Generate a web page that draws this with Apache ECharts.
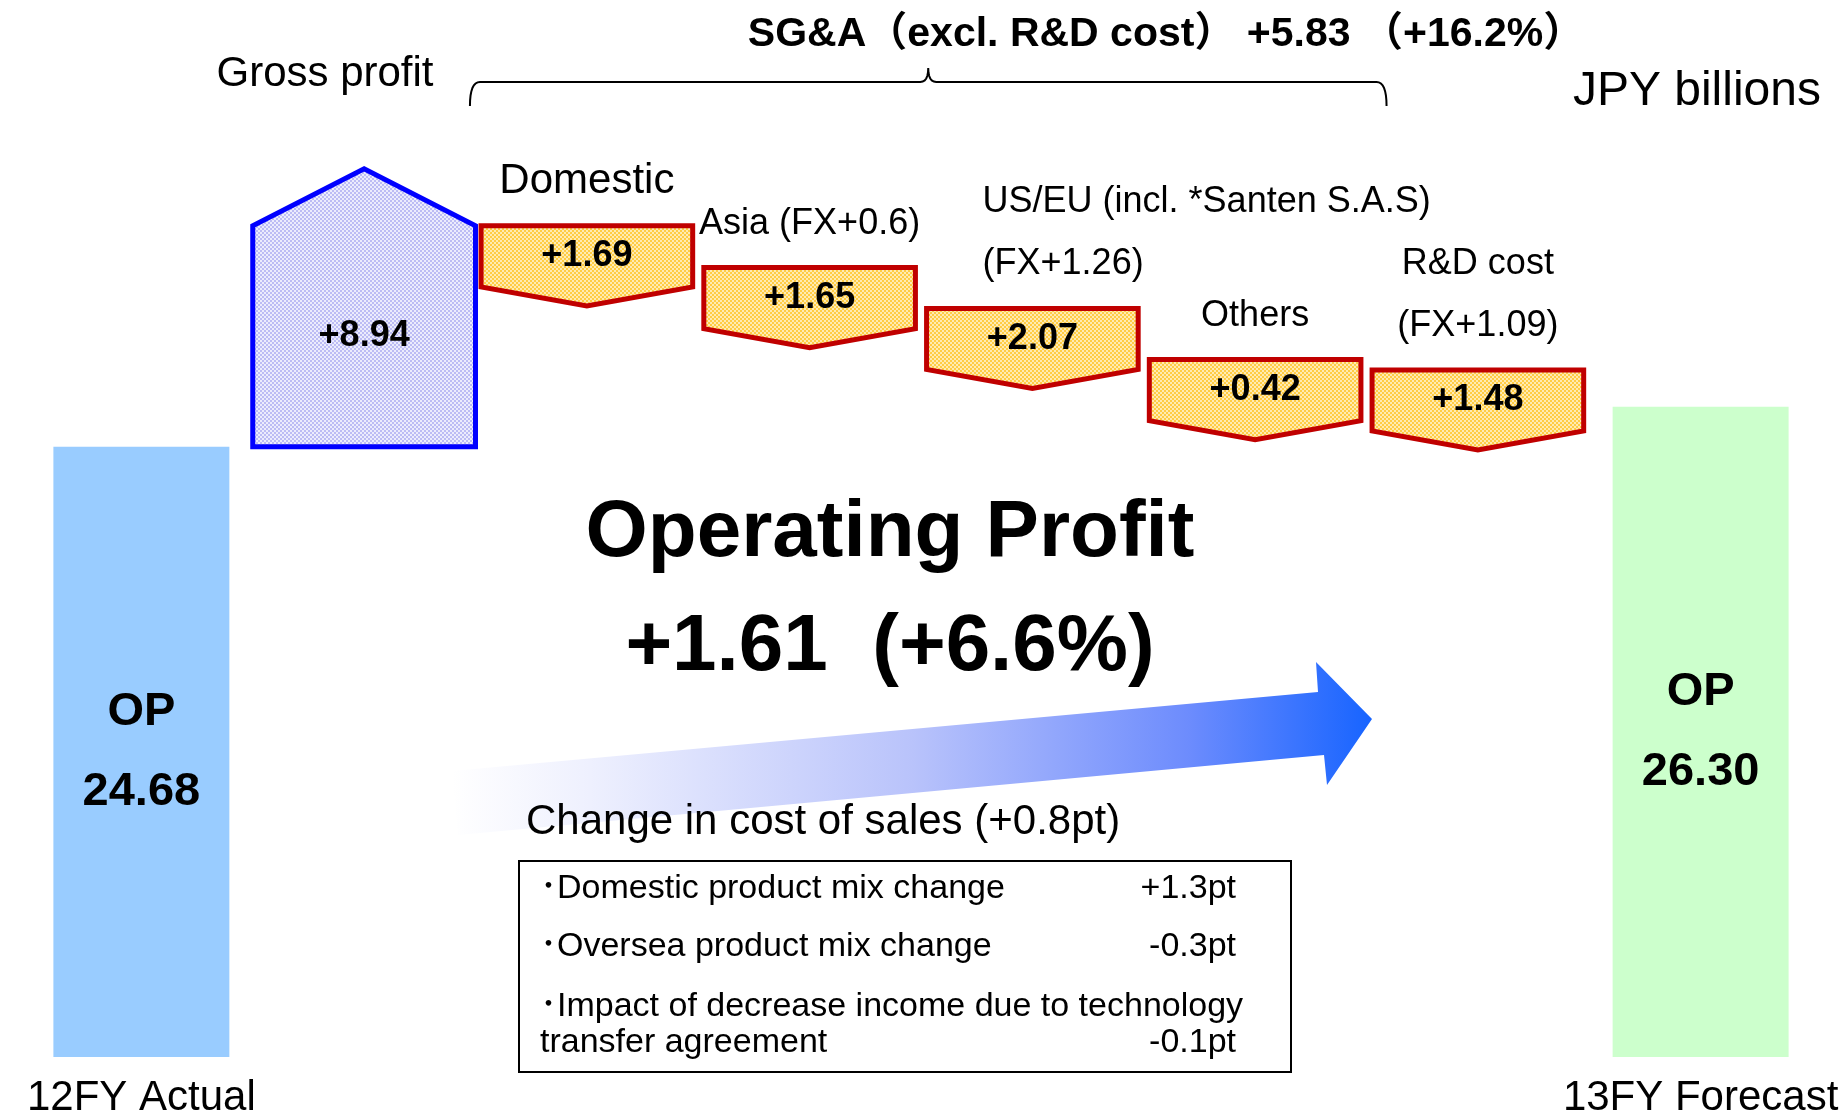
<!DOCTYPE html>
<html>
<head>
<meta charset="utf-8">
<title>Operating Profit bridge</title>
<script src="https://cdn.jsdelivr.net/npm/echarts@6/dist/echarts.min.js"></script>
<style>
  html, body { margin: 0; padding: 0; background: #fff; }
  #main { width: 1842px; height: 1116px; }
</style>
</head>
<body>
<div id="main"></div>
<script>
// values (JPY billions)
const categories = ['12FY Actual', 'Gross profit', 'Domestic', 'Asia', 'US/EU', 'Others', 'R&D cost', '13FY Forecast'];
const opActual = 24.68;
const opForecast = 26.30;
const grossProfit = 8.94;
const sgaValues = [1.69, 1.65, 2.07, 0.42, 1.48];
const sgaLabels = ['Domestic', 'Asia (FX+0.6)', 'US/EU (incl. *Santen S.A.S)\n(FX+1.26)', 'Others', 'R&D cost\n(FX+1.09)'];
const sgaTotal = '+5.83';
const sgaRate = '+16.2%';
const opChange = '+1.61';
const opRate = '+6.6%';
const cosTitle = 'Change in cost of sales (+0.8pt)';
const cosItems = ['･Domestic product mix change', '･Oversea product mix change', '･Impact of decrease income due to technology\ntransfer agreement'];
const cosValues = ['+1.3pt', '-0.3pt', '-0.1pt'];

const FONT = '"Liberation Sans", Arial, sans-serif';
const CJK = '"Liberation Sans", "Noto Sans CJK JP", sans-serif';

// waterfall levels
const gpData = [[1, opActual, grossProfit]];
let level = opActual + grossProfit;
const sgaData = sgaValues.map((v, i) => {
    const d = [i + 2, level, v];
    level -= v;
    return d;
});

// dotted fills like the slide shapes
function makePattern(base, dot) {
    const c = document.createElement('canvas');
    c.width = 4;
    c.height = 4;
    const ctx = c.getContext('2d');
    ctx.fillStyle = base;
    ctx.fillRect(0, 0, 4, 4);
    ctx.fillStyle = dot;
    ctx.fillRect(0, 0, 2, 2);
    ctx.fillRect(2, 2, 2, 2);
    return { image: c, repeat: 'repeat' };
}
const gpFill = makePattern('#bcbcf4', '#ececfd');
const sgaFill = makePattern('#ffcc44', '#ffebb2');

function txt(text, x, y, font, align, vAlign, extra) {
    return Object.assign({
        type: 'text',
        style: {
            text: text, x: x, y: y, font: font, fill: '#000',
            align: align, textAlign: align,
            verticalAlign: vAlign, textVerticalAlign: vAlign
        }
    }, extra || {});
}

function renderGross(params, api) {
    const x = api.value(0);
    const base = api.coord([x, api.value(1)]);
    const top = api.coord([x, api.value(1) + api.value(2)]);
    const w = api.size([1, 0])[0] * 1.0;
    const head = 57;
    const l = base[0] - w / 2, r = base[0] + w / 2;
    return {
        type: 'group',
        children: [
            {
                type: 'polygon',
                shape: { points: [[l, base[1]], [r, base[1]], [r, top[1]], [base[0], top[1] - head], [l, top[1]]] },
                style: { fill: gpFill, stroke: '#0000ff', lineWidth: 5 }
            },
            txt('+' + api.value(2).toFixed(2), base[0], (base[1] + top[1]) / 2, 'bold 36px ' + FONT, 'center', 'middle')
        ]
    };
}

function renderSga(params, api) {
    const i = params.dataIndex;
    const x = api.value(0);
    const p = api.coord([x, api.value(1)]);
    const w = api.size([1, 0])[0] * 0.95;
    const side = 61, tip = 19;
    const l = p[0] - w / 2, r = p[0] + w / 2, y0 = p[1];
    const lines = sgaLabels[i].split('\n').length;
    const lh = 62;
    const fs = i === 0 ? 42 : 36;
    const align = i === 2 ? 'left' : 'center';
    const lx = i === 2 ? l + 56 : p[0];
    return {
        type: 'group',
        children: [
            {
                type: 'polygon',
                shape: { points: [[l, y0], [r, y0], [r, y0 + side], [p[0], y0 + side + tip], [l, y0 + side]] },
                style: { fill: sgaFill, stroke: '#c00000', lineWidth: 5 }
            },
            txt('+' + api.value(2).toFixed(2), p[0], y0 + side / 2, 'bold 36px ' + FONT, 'center', 'middle'),
            {
                type: 'text',
                style: {
                    text: sgaLabels[i], x: lx, y: y0 - 44 - (lines - 1) * lh / 2,
                    font: fs + 'px ' + FONT, lineHeight: lh, fill: '#000',
                    align: align, textAlign: align,
                    verticalAlign: 'middle', textVerticalAlign: 'middle'
                }
            }
        ]
    };
}

const chart = echarts.init(document.getElementById('main'));

const arrowPts = [[452, 771], [1318, 692], [1316, 662], [1372, 719], [1327, 785], [1324, 755], [458, 835]];

const noteGraphics = [
    { type: 'rect', id: 'noteBox', shape: { x: 519, y: 861, width: 772, height: 211 },
      style: { fill: '#fff', stroke: '#000', lineWidth: 2 }, z: 1 }
];
const rowY = [889, 947, 1007];
cosItems.forEach((t, i) => {
    noteGraphics.push({
        type: 'text', id: 'noteItem' + i, z: 2,
        style: { text: t, x: 540, y: rowY[i] - 18, font: '34px ' + CJK, lineHeight: 36, fill: '#000',
                 align: 'left', textAlign: 'left', verticalAlign: 'top', textVerticalAlign: 'top' }
    });
    const vy = i === 2 ? rowY[i] + 36 : rowY[i];
    noteGraphics.push(Object.assign(txt(cosValues[i], 1236, vy, '34px ' + FONT, 'right', 'middle'), { id: 'noteVal' + i, z: 2 }));
});

const option = {
    animation: false,
    backgroundColor: '#fff',
    grid: { left: 30, right: 30, top: 167, bottom: 59, outerBoundsMode: 'none' },
    xAxis: {
        type: 'category',
        data: categories,
        axisLine: { show: false },
        axisTick: { show: false },
        splitLine: { show: false },
        axisLabel: {
            interval: 0,
            margin: 20,
            color: '#000',
            fontSize: 42,
            fontFamily: FONT,
            formatter: (v, idx) => (idx === 0 || idx === categories.length - 1) ? v : ''
        }
    },
    yAxis: { type: 'value', min: 0, max: 36, show: false },
    series: [
        {
            type: 'bar',
            name: 'OP',
            barWidth: '79%',
            data: categories.map((c, i) => {
                if (i === 0) return { value: opActual, itemStyle: { color: '#99ccff' } };
                if (i === categories.length - 1) return { value: opForecast, itemStyle: { color: '#ccffcc' } };
                return '-';
            }),
            label: {
                show: true,
                position: 'inside',
                color: '#000',
                fontSize: 47,
                fontWeight: 'bold',
                fontFamily: FONT,
                lineHeight: 80,
                formatter: p => 'OP\n' + Number(p.value).toFixed(2)
            }
        },
        {
            type: 'custom',
            name: 'Gross profit',
            renderItem: renderGross,
            encode: { x: 0, y: 1 },
            data: gpData,
            clip: false
        },
        {
            type: 'custom',
            name: 'SG&A',
            renderItem: renderSga,
            encode: { x: 0, y: 1 },
            data: sgaData,
            clip: false
        }
    ],
    graphic: [
        {
            type: 'polygon', id: 'arrow', z: 0,
            shape: { points: arrowPts },
            style: {
                fill: {
                    type: 'linear', x: 0, y: 0, x2: 1, y2: 0,
                    colorStops: [
                        { offset: 0, color: '#ffffff' },
                        { offset: 0.15, color: '#eef0fe' },
                        { offset: 0.5, color: '#b9c3fb' },
                        { offset: 0.8, color: '#6d8cfd' },
                        { offset: 1, color: '#1764ff' }
                    ]
                }
            }
        },
        Object.assign(txt('Operating Profit', 890, 534, 'bold 80px ' + FONT, 'center', 'middle'), { id: 'title1', z: 3 }),
        Object.assign(txt(opChange + '  (' + opRate + ')', 890, 648, 'bold 80px ' + FONT, 'center', 'middle'), { id: 'title2', z: 3 }),
        Object.assign(txt(cosTitle, 526, 822, '42px ' + FONT, 'left', 'middle'), { id: 'cosTitle', z: 3 }),
        Object.assign(txt('Gross profit', 325, 74, '42px ' + FONT, 'center', 'middle'), { id: 'gpLabel' }),
        Object.assign(txt('SG&A（excl. R&D cost） ' + sgaTotal + ' （' + sgaRate + '）', 1166, 35, 'bold 41px ' + CJK, 'center', 'middle'), { id: 'sgaHead' }),
        Object.assign(txt('JPY billions', 1821, 92, '48px ' + FONT, 'right', 'middle'), { id: 'unit' })
    ].concat(noteGraphics)
};

chart.setOption(option);

// curly brace over the SG&A items, placed from the category axis
function quad(p0, c, p1, n) {
    const pts = [];
    for (let k = 0; k <= n; k++) {
        const t = k / n;
        pts.push([
            (1 - t) * (1 - t) * p0[0] + 2 * (1 - t) * t * c[0] + t * t * p1[0],
            (1 - t) * (1 - t) * p0[1] + 2 * (1 - t) * t * c[1] + t * t * p1[1]
        ]);
    }
    return pts;
}
const c0 = chart.convertToPixel({ xAxisIndex: 0 }, 'Domestic');
const c1 = chart.convertToPixel({ xAxisIndex: 0 }, 'Asia');
const c3 = chart.convertToPixel({ xAxisIndex: 0 }, 'Others');
const band = c1 - c0;
const bl = c0 - band * 0.525, br = c3 + band * 0.59, bm = (bl + br) / 2;
const braceY = 82, braceEnd = 106, braceTop = 68;
const bracePts = []
    .concat(quad([bl, braceEnd], [bl, braceY], [bl + 10, braceY], 8))
    .concat(quad([bm - 8, braceY], [bm, braceY], [bm, braceTop], 6))
    .concat(quad([bm, braceTop], [bm, braceY], [bm + 8, braceY], 6))
    .concat(quad([br - 10, braceY], [br, braceY], [br, braceEnd], 8));
chart.setOption({
    graphic: [{
        type: 'polyline', id: 'brace',
        shape: { points: bracePts },
        style: { fill: null, stroke: '#000', lineWidth: 2 }
    }]
});
</script>
</body>
</html>
